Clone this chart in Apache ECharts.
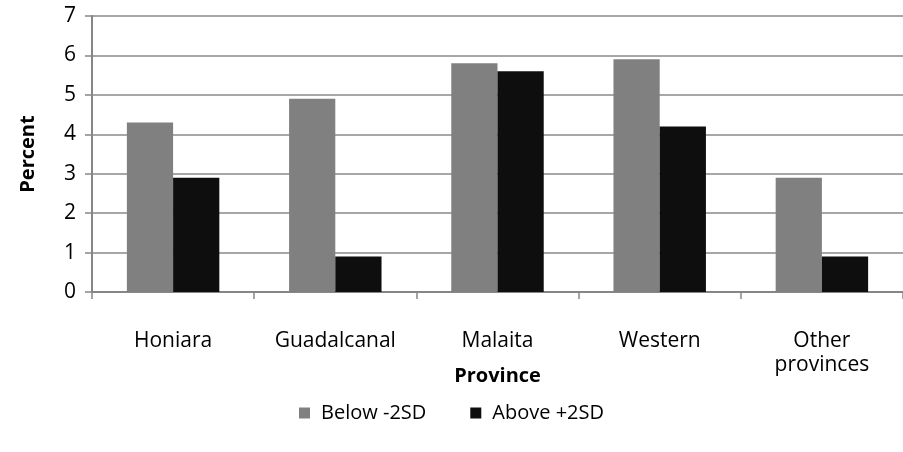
<!DOCTYPE html>
<html>
<head>
<meta charset="utf-8">
<script src="https://cdn.jsdelivr.net/npm/echarts@6/dist/echarts.min.js"></script>
<style>
html,body{margin:0;padding:0;background:#fff;}
#chart{width:903px;height:452px;}
</style>
</head>
<body>
<div id="chart"></div>
<script>
var categories = ['Honiara', 'Guadalcanal', 'Malaita', 'Western', 'Other\nprovinces'];
var seriesNames = ['Below -2SD', 'Above +2SD'];
var belowValues = [4.3, 4.9, 5.8, 5.9, 2.9];
var aboveValues = [2.9, 0.9, 5.6, 4.2, 0.9];
var yTicks = [0, 1, 2, 3, 4, 5, 6, 7];

var FONT = '"Open Sans", "Liberation Sans", sans-serif';
var chart = echarts.init(document.getElementById('chart'), null, {renderer: 'canvas'});
chart.setOption({
  animation: false,
  backgroundColor: '#ffffff',
  textStyle: {fontFamily: FONT, color: '#000'},
  grid: {left: 92, right: -3, top: 16, bottom: 160, containLabel: false},
  legend: {
    data: seriesNames,
    left: 'center',
    top: 398,
    icon: 'rect',
    itemWidth: 11,
    itemHeight: 11,
    itemGap: 44,
    textStyle: {fontFamily: FONT, fontSize: 20, color: '#000', padding: [0, 0, 0, 6]}
  },
  xAxis: {
    type: 'category',
    data: categories,
    name: 'Province',
    nameLocation: 'middle',
    nameGap: 74,
    nameMoveOverlap: false,
    nameTextStyle: {fontFamily: FONT, fontSize: 20, fontWeight: 'bold', color: '#000'},
    axisLine: {show: true, lineStyle: {color: '#868686', width: 2}},
    axisTick: {show: true, alignWithLabel: false, length: 7, lineStyle: {color: '#868686', width: 1.5}},
    axisLabel: {fontFamily: FONT, fontSize: 21, color: '#000', margin: 37, lineHeight: 24, interval: 0}
  },
  yAxis: {
    type: 'value',
    min: yTicks[0],
    max: yTicks[yTicks.length - 1],
    interval: 1,
    name: 'Percent',
    nameLocation: 'middle',
    nameGap: 54,
    nameMoveOverlap: false,
    nameTextStyle: {fontFamily: FONT, fontSize: 20, fontWeight: 'bold', color: '#000'},
    axisLine: {show: true, lineStyle: {color: '#868686', width: 2}},
    axisTick: {show: true, length: 7, lineStyle: {color: '#868686', width: 1.5}},
    axisLabel: {fontFamily: FONT, fontSize: 21, color: '#000', margin: 16},
    splitLine: {show: true, lineStyle: {color: '#8a8a8a', width: 1.5}}
  },
  series: [
    {
      name: seriesNames[0],
      type: 'bar',
      data: belowValues,
      barGap: '0%',
      barCategoryGap: '43%',
      itemStyle: {color: '#808080'}
    },
    {
      name: seriesNames[1],
      type: 'bar',
      data: aboveValues,
      barGap: '0%',
      barCategoryGap: '43%',
      itemStyle: {color: '#0e0e0e'}
    }
  ]
});
</script>
</body>
</html>
